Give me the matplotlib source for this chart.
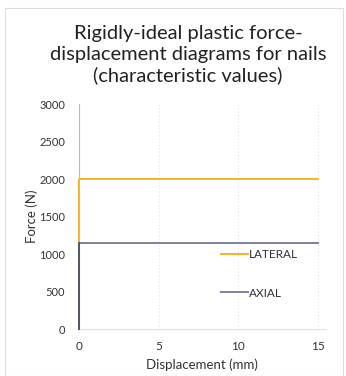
import matplotlib
matplotlib.use("Agg")
import matplotlib.pyplot as plt
from matplotlib.patches import Rectangle

plt.rcParams['font.family'] = ['Lato', 'DejaVu Sans']

lateral_x = [0, 0, 15]
lateral_y = [0, 2000, 2000]
axial_x = [0, 0, 15]
axial_y = [0, 1150, 1150]
yticks = [0, 500, 1000, 1500, 2000, 2500, 3000]
xticks = [0, 5, 10, 15]

fig = plt.figure(figsize=(3.46, 3.76), dpi=100)
fig.patches.append(Rectangle((0.015, 0.0), 0.975, 0.98, transform=fig.transFigure,
                             fill=False, edgecolor='#DDDDDD', lw=0.8))
ax = fig.add_axes([0.228, 0.125, 0.714, 0.598])

ax.grid(axis='x', color='#E4E4E4', lw=0.8, linestyle=(0, (1, 2)))
ax.plot(lateral_x, lateral_y, color='#F5B525', lw=1.4, label='LATERAL', clip_on=False, zorder=3)
ax.plot(axial_x, axial_y, color='#8080A8', lw=1.4, label='AXIAL', clip_on=False, zorder=3)
ax.plot([0, 0], [0, 1150], color='#55556A', lw=1.4, clip_on=False, zorder=4)

ax.set_xlim(0, 15.5)
ax.set_ylim(0, 3000)
ax.set_xticks(xticks)
ax.set_yticks(yticks)
for s in ['top', 'right']:
    ax.spines[s].set_visible(False)
ax.spines['left'].set_color('#BBBBBB')
ax.spines['bottom'].set_color('#E0E0E0')
ax.tick_params(axis='both', length=0, colors='#333333')
ax.tick_params(axis='x', labelsize=8.5, pad=9)
ax.tick_params(axis='y', labelsize=8, pad=10)
ax.set_xlabel('Displacement (mm)', fontsize=9.5, color='#333333', labelpad=4)
ax.set_ylabel('Force (N)', fontsize=9.5, color='#333333', labelpad=1)

fig.text(0.543, 1 - 55 / 376,
         'Rigidly-ideal plastic force-\ndisplacement diagrams for nails\n(characteristic values)',
         fontsize=14.5, color='#222222', ha='center', va='center', linespacing=1.25)

leg = ax.legend(loc='upper left', bbox_to_anchor=(0.555, 0.375), frameon=False,
                fontsize=8.5, labelspacing=2.3, handlelength=2.3, handletextpad=0.1,
                borderaxespad=0)
for t in leg.get_texts():
    t.set_color('#333333')

fig.savefig('out.png', dpi=100, facecolor='white')
